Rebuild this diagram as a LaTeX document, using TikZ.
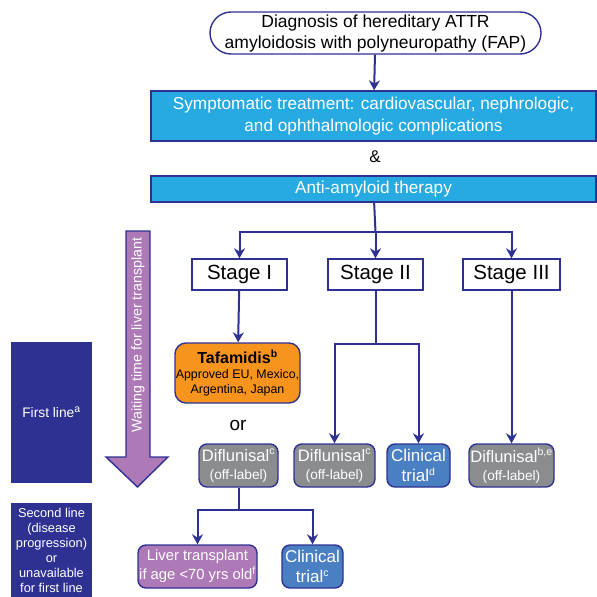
\documentclass[tikz,border=0pt]{standalone}
\usepackage{fontspec}
\setmainfont{Liberation Sans}
\usetikzlibrary{arrows.meta,shapes.misc}
\definecolor{navy}{HTML}{2E3192}
\definecolor{cyanbox}{HTML}{27AAE1}
\definecolor{orangebox}{HTML}{F7941D}
\definecolor{graybox}{HTML}{8A8C8E}
\definecolor{bluebox}{HTML}{4A7FC1}
\definecolor{purplebox}{HTML}{AD7AB7}
\newcommand{\supx}[1]{\textsuperscript{\fontsize{10.5}{10}\selectfont #1}}
\tikzset{
  conn/.style={draw=navy, line width=2pt},
  arr/.style={conn, -{Stealth[length=10pt,width=11pt]}},
  box/.style={draw=navy, line width=1.4pt, align=center, inner sep=0pt},
  wide/.style={box, fill=cyanbox, text=white, font=\fontsize{17.2}{22}\selectfont},
  stagebox/.style={box, fill=white, minimum width=95pt, minimum height=31pt, font=\fontsize{20.5}{22}\selectfont},
  rbox/.style={box, rounded corners=8pt, text=white, minimum height=43pt},
  side/.style={box, fill=navy, text=white, minimum width=79pt, font=\fontsize{13.8}{15}\selectfont},
}
\begin{document}
\begin{tikzpicture}[x=1pt,y=-1pt]
\useasboundingbox (0,0) rectangle (597,597);
% top
\node[box, rounded corners=21pt, minimum width=331pt, minimum height=42pt, font=\fontsize{17.5}{21}\selectfont] (diag) at (375.5,33) {Diagnosis of hereditary ATTR\\amyloidosis with polyneuropathy (FAP)};
\node[wide, minimum width=445pt, minimum height=50pt] (symp) at (373.5,116) {Symptomatic treatment: cardiovascular, nephrologic,\\and ophthalmologic complications};
\node[font=\fontsize{17}{18}\selectfont] (amp) at (375,157) {\&};
\node[wide, minimum width=445pt, minimum height=26pt] (anti) at (373.5,189) {Anti-amyloid therapy};
% stages
\node[stagebox] (s1) at (239.5,274.5) {Stage I};
\node[stagebox] (s2) at (375.5,274.5) {Stage II};
\node[stagebox, minimum width=97pt] (s3) at (511.5,274.5) {Stage III};
% treatments
\node[box, rounded corners=11pt, fill=orangebox, minimum width=125pt, minimum height=60pt, font=\fontsize{12.4}{15}\selectfont] (taf) at (237.5,373) {{\fontsize{16}{18}\selectfont\bfseries Tafamidis\supx{b}}\\Approved EU, Mexico,\\Argentina, Japan};
\node[font=\fontsize{19}{20}\selectfont] (or) at (238,425) {or};
\node[rbox, fill=graybox, minimum width=79pt, font=\fontsize{13.7}{18}\selectfont] (d1) at (238.5,465.5) {{\fontsize{16.6}{18}\selectfont Diflunisal\supx{c}}\\(off-label)};
\node[rbox, fill=graybox, minimum width=81pt, font=\fontsize{13.7}{18}\selectfont] (d2) at (334.5,465.5) {{\fontsize{16.6}{18}\selectfont Diflunisal\supx{c}}\\(off-label)};
\node[rbox, fill=bluebox, minimum width=63pt, font=\fontsize{17}{20}\selectfont] (c1) at (418.5,465.5) {Clinical\\trial\supx{d}};
\node[rbox, fill=graybox, minimum width=85pt, font=\fontsize{13.7}{18}\selectfont] (d3) at (511.5,465.5) {{\fontsize{16.6}{18}\selectfont Diflunisal\supx{b,e}}\\(off-label)};
\node[rbox, fill=purplebox, minimum width=119pt, font=\fontsize{14.8}{19}\selectfont] (liv) at (197.5,566.5) {Liver transplant\\if age <70 yrs old\supx{f}};
\node[rbox, fill=bluebox, minimum width=61pt, font=\fontsize{17}{20}\selectfont] (c2) at (312.5,566.5) {Clinical\\trial\supx{c}};
% side labels
\node[side, minimum height=139pt] (first) at (51.5,412.5) {First line\supx{a}};
\node[side, minimum height=93pt, font=\fontsize{12.8}{15}\selectfont] (second) at (51.5,550.5) {Second line\\(disease\\progression)\\or\\unavailable\\for first line};
% big arrow
\draw[draw=navy, line width=1.4pt, fill=purplebox] (126,231) -- (150,231) -- (150,457) -- (168,457) -- (137.5,487) -- (106,457) -- (126,457) -- cycle;
\node[rotate=90, text=white, font=\fontsize{14.2}{18}\selectfont] (wait) at (138,335) {Waiting time for liver transplant};
% connectors
\draw[arr] (diag) -- (symp);
\coordinate (ja) at (375.5,232);
\draw[conn] (anti) -- (ja);
\draw[arr] (ja) -| (s1);
\draw[arr] (ja) -- (s2);
\draw[arr] (ja) -| (s3);
\draw[arr] (s1) -- (taf);
\coordinate (jb) at (375.5,344);
\draw[conn] (s2) -- (jb);
\draw[arr] (jb) -| (d2);
\draw[arr] (jb) -| (c1);
\draw[arr] (s3) -- (d3);
\coordinate (jc) at (238.5,510);
\draw[conn] (d1) -- (jc);
\draw[arr] (jc) -| (liv);
\draw[arr] (jc) -| (c2);
\end{tikzpicture}
\end{document}
